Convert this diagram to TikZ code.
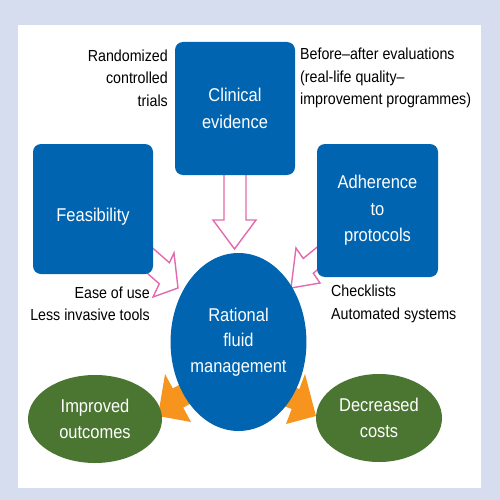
\documentclass[tikz,border=0pt]{standalone}
\usepackage{fontspec}
\setmainfont[FakeStretch=0.89]{Liberation Sans}
\usetikzlibrary{shapes.geometric}
\definecolor{bgblue}{HTML}{D5DDEF}
\definecolor{boxblue}{HTML}{0064B0}
\definecolor{leafgreen}{HTML}{4A7632}
\definecolor{arrorange}{HTML}{F7941E}
\definecolor{arrpink}{HTML}{E16BAE}
\tikzset{
  bluebox/.style={draw=none, fill=boxblue, rounded corners=8pt, text=white, align=center,
    font=\fontsize{18.5}{26.5}\selectfont, inner sep=0pt},
  greenell/.style={ellipse, fill=leafgreen, text=white, align=center,
    font=\fontsize{18.5}{26}\selectfont, inner sep=0pt},
  note/.style={inner sep=0pt, font=\fontsize{16}{22.5}\selectfont, text=black},
  pinkarrow/.style={draw=arrpink, fill=white, line width=1.4pt, line join=miter},
  orangearrow/.style={fill=arrorange, draw=none}
}
\begin{document}
\begin{tikzpicture}[x=1pt,y=-1pt]
\useasboundingbox (0,0) rectangle (500,500);
\fill[bgblue] (0,0) rectangle (500,500);
\fill[white] (18,25) rectangle (481,488);

% orange block arrows (behind the circle)
\fill[orangearrow] (208,369.4) -- (172.8,388.4) -- (165,374) -- (158,416) -- (191,422) -- (183.2,407.6) -- (218.4,388.6) -- cycle;
\fill[orangearrow] (261.9,374.8) -- (299.3,389) -- (305,374) -- (316,416) -- (286,424) -- (291.7,409) -- (254.3,394.8) -- cycle;

% pink hollow arrows (behind the boxes)
\path[pinkarrow] (224,170) -- (224,220) -- (213,220) -- (234.5,249) -- (256,220) -- (246,220) -- (246,170);
\path[pinkarrow] (146.8,242.9) -- (169.4,262.7) -- (174,253) -- (178,288) -- (153,297) -- (159.3,283.8) -- (136.7,264);
\path[pinkarrow] (326.3,239.6) -- (303.2,258.5) -- (296,248) -- (291,288) -- (320,283) -- (313.3,273.2) -- (336.4,254.3);

% boxes
\node[bluebox, minimum width=120pt, minimum height=133pt] (clin) at (235,108.5) {Clinical\\evidence};
\node[bluebox, minimum width=120pt, minimum height=130pt] (feas) at (93,209) {\raisebox{-12pt}[0pt][0pt]{Feasibility}};
\node[bluebox, minimum width=121pt, minimum height=133pt] (adh) at (377.5,210.5) {Adherence\\to\\protocols};

% central ellipse
\node[ellipse, fill=boxblue, text=white, align=center, inner sep=0pt,
  minimum width=133pt, minimum height=178pt, font=\fontsize{18.5}{25.5}\selectfont] (rfm) at (238.5,342) {Rational\\fluid\\management};

% outcome ellipses
\node[greenell, minimum width=134pt, minimum height=88pt] (imp) at (95,419) {Improved\\outcomes};
\node[greenell, minimum width=126pt, minimum height=88pt] (dec) at (379,418) {Decreased\\costs};

% annotations
\node[note, anchor=east, align=right] (rct) at (168,78) {Randomized\\controlled\\trials};
\node[note, anchor=west, align=left] (bae) at (300,78) {Before–after evaluations\\(real-life quality–\\improvement programmes)};
\node[note, anchor=east, align=right] (ease) at (150,304) {Ease of use\\Less invasive tools};
\node[note, anchor=west, align=left] (chk) at (331,304) {Checklists\\Automated systems};
\end{tikzpicture}
\end{document}
